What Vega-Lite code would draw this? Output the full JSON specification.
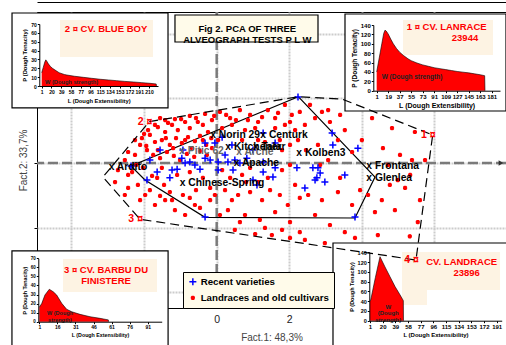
{
"$schema": "https://vega.github.io/schema/vega-lite/v6.json",
"width": 469, "height": 296,
"autosize": "none",
"padding": {"left": 37, "top": 12, "right": 0, "bottom": 37},
"background": "white",
"config": {"font": "Liberation Sans", "view": {"stroke": "black", "strokeWidth": 1}},
"datasets": {
"one": [{}],
"pts": [
{"x":-1.89,"y":1.02,"g":"L"},{"x":-1.84,"y":0.87,"g":"L"},{"x":-1.62,"y":1.11,"g":"L"},{"x":-1.42,"y":0.96,"g":"L"},{"x":-1.23,"y":1.18,"g":"L"},{"x":-1.07,"y":1.02,"g":"L"},{"x":-0.87,"y":1.27,"g":"L"},{"x":-0.74,"y":1.08,"g":"L"},{"x":-0.57,"y":1.39,"g":"L"},{"x":-0.38,"y":1.18,"g":"L"},{"x":-0.24,"y":0.96,"g":"L"},{"x":-0.13,"y":1.33,"g":"L"},{"x":-1.70,"y":0.65,"g":"L"},{"x":-1.51,"y":0.71,"g":"L"},{"x":-1.29,"y":0.56,"g":"L"},{"x":-1.12,"y":0.77,"g":"L"},{"x":-0.96,"y":0.62,"g":"L"},{"x":-0.79,"y":0.80,"g":"L"},{"x":-0.60,"y":0.68,"g":"L"},{"x":-0.46,"y":0.84,"g":"L"},{"x":-0.29,"y":0.56,"g":"L"},{"x":-2.11,"y":0.56,"g":"L"},{"x":-1.92,"y":0.40,"g":"L"},{"x":-1.75,"y":0.25,"g":"L"},{"x":-1.56,"y":0.15,"g":"L"},{"x":-1.37,"y":0.34,"g":"L"},{"x":-1.18,"y":0.22,"g":"L"},{"x":-1.01,"y":0.09,"g":"L"},{"x":-0.82,"y":0.28,"g":"L"},{"x":-0.62,"y":0.19,"g":"L"},{"x":-0.46,"y":0.37,"g":"L"},{"x":-0.27,"y":0.25,"g":"L"},{"x":-0.13,"y":0.46,"g":"L"},{"x":-2.25,"y":0.25,"g":"L"},{"x":-2.06,"y":0.77,"g":"L"},{"x":-2.53,"y":0.09,"g":"L"},{"x":-2.33,"y":-0.28,"g":"L"},{"x":-2.17,"y":-0.68,"g":"L"},{"x":-1.84,"y":-0.84,"g":"L"},{"x":-1.64,"y":-0.46,"g":"L"},{"x":-1.45,"y":-0.68,"g":"L"},{"x":-1.29,"y":-0.90,"g":"L"},{"x":-1.09,"y":-0.37,"g":"L"},{"x":-0.93,"y":-0.99,"g":"L"},{"x":-0.74,"y":-0.28,"g":"L"},{"x":-0.57,"y":-0.84,"g":"L"},{"x":-0.38,"y":-0.46,"g":"L"},{"x":-0.18,"y":-0.77,"g":"L"},{"x":-2.44,"y":0.34,"g":"L"},{"x":-2.80,"y":-0.59,"g":"L"},{"x":-1.56,"y":1.39,"g":"L"},{"x":-1.42,"y":1.33,"g":"L"},{"x":-1.15,"y":1.36,"g":"L"},{"x":-0.74,"y":1.46,"g":"L"},{"x":-0.32,"y":1.52,"g":"L"},{"x":-2.25,"y":0.71,"g":"L"},{"x":-2.72,"y":-0.22,"g":"L"},{"x":-2.53,"y":-0.99,"g":"L"},{"x":-2.11,"y":-1.15,"g":"L"},{"x":-1.70,"y":-1.30,"g":"L"},{"x":-1.42,"y":-1.15,"g":"L"},{"x":-1.15,"y":-1.46,"g":"L"},{"x":-0.87,"y":-1.61,"g":"L"},{"x":-0.60,"y":-1.30,"g":"L"},{"x":-0.18,"y":-1.15,"g":"L"},
{"x":0.09,"y":1.58,"g":"L"},{"x":0.37,"y":1.39,"g":"L"},{"x":0.64,"y":1.64,"g":"L"},{"x":0.92,"y":1.49,"g":"L"},{"x":1.14,"y":1.27,"g":"L"},{"x":1.41,"y":1.64,"g":"L"},{"x":1.61,"y":1.39,"g":"L"},{"x":1.88,"y":1.80,"g":"L"},{"x":2.07,"y":1.49,"g":"L"},{"x":0.15,"y":1.08,"g":"L"},{"x":0.42,"y":1.18,"g":"L"},{"x":0.78,"y":1.02,"g":"L"},{"x":1.06,"y":1.08,"g":"L"},{"x":1.61,"y":1.08,"g":"L"},{"x":1.88,"y":1.18,"g":"L"},{"x":2.16,"y":1.02,"g":"L"},{"x":0.04,"y":0.71,"g":"L"},{"x":0.70,"y":0.71,"g":"L"},{"x":1.33,"y":0.65,"g":"L"},{"x":1.74,"y":0.71,"g":"L"},{"x":2.02,"y":0.56,"g":"L"},{"x":2.24,"y":0.71,"g":"L"},{"x":0.15,"y":-0.22,"g":"L"},{"x":0.37,"y":-0.46,"g":"L"},{"x":0.70,"y":-0.37,"g":"L"},{"x":0.92,"y":-0.15,"g":"L"},{"x":1.14,"y":-0.59,"g":"L"},{"x":1.41,"y":-0.46,"g":"L"},{"x":1.80,"y":-0.22,"g":"L"},{"x":2.02,"y":-0.06,"g":"L"},{"x":2.16,"y":-0.68,"g":"L"},{"x":0.23,"y":-0.84,"g":"L"},{"x":0.59,"y":-0.99,"g":"L"},{"x":0.92,"y":-0.90,"g":"L"},{"x":1.25,"y":-1.15,"g":"L"},{"x":1.74,"y":-0.99,"g":"L"},{"x":1.96,"y":-1.30,"g":"L"},{"x":2.29,"y":-1.08,"g":"L"},{"x":0.31,"y":-1.46,"g":"L"},{"x":0.78,"y":-1.61,"g":"L"},{"x":1.19,"y":-1.76,"g":"L"},{"x":1.61,"y":-1.52,"g":"L"},{"x":2.02,"y":-1.83,"g":"L"},{"x":0.50,"y":-2.07,"g":"L"},{"x":1.06,"y":-2.20,"g":"L"},{"x":1.52,"y":-2.23,"g":"L"},{"x":2.02,"y":-2.32,"g":"L"},
{"x":2.57,"y":1.80,"g":"L"},{"x":2.90,"y":1.58,"g":"L"},{"x":3.67,"y":1.70,"g":"L"},{"x":4.28,"y":1.39,"g":"L"},{"x":4.83,"y":1.08,"g":"L"},{"x":5.46,"y":0.96,"g":"L"},{"x":2.43,"y":1.18,"g":"L"},{"x":3.12,"y":1.27,"g":"L"},{"x":3.53,"y":1.02,"g":"L"},{"x":4.00,"y":0.71,"g":"L"},{"x":4.58,"y":0.46,"g":"L"},{"x":5.05,"y":0.25,"g":"L"},{"x":5.38,"y":0.09,"g":"L"},{"x":2.79,"y":0.56,"g":"L"},{"x":3.34,"y":0.71,"g":"L"},{"x":3.73,"y":0.34,"g":"L"},{"x":2.85,"y":-0.06,"g":"L"},{"x":4.72,"y":-0.06,"g":"L"},{"x":4.99,"y":-0.53,"g":"L"},{"x":5.33,"y":-0.37,"g":"L"},{"x":2.52,"y":-0.99,"g":"L"},{"x":2.90,"y":-1.15,"g":"L"},{"x":3.34,"y":-0.90,"g":"L"},{"x":3.73,"y":-1.30,"g":"L"},{"x":4.17,"y":-0.99,"g":"L"},{"x":4.55,"y":-1.15,"g":"L"},{"x":4.91,"y":-1.46,"g":"L"},{"x":2.71,"y":-1.61,"g":"L"},{"x":3.12,"y":-1.92,"g":"L"},{"x":3.53,"y":-2.14,"g":"L"},{"x":4.44,"y":-2.23,"g":"L"},{"x":2.29,"y":-2.14,"g":"L"},{"x":2.98,"y":-2.48,"g":"L"},{"x":4.00,"y":-2.63,"g":"L"},{"x":4.91,"y":-2.54,"g":"L"},
{"x":-2.00,"y":0.90,"g":"L"},{"x":-1.70,"y":1.18,"g":"L"},{"x":-1.34,"y":1.24,"g":"L"},{"x":-0.98,"y":1.36,"g":"L"},{"x":-0.52,"y":1.27,"g":"L"},{"x":-0.07,"y":1.46,"g":"L"},{"x":0.26,"y":1.49,"g":"L"},{"x":0.53,"y":1.33,"g":"L"},{"x":0.86,"y":1.33,"g":"L"},{"x":1.25,"y":1.42,"g":"L"},{"x":1.69,"y":1.55,"g":"L"},{"x":2.02,"y":1.27,"g":"L"},{"x":2.29,"y":1.58,"g":"L"},{"x":2.71,"y":1.39,"g":"L"},{"x":3.07,"y":1.64,"g":"L"},{"x":3.40,"y":1.49,"g":"L"},
{"x":-1.94,"y":0.53,"g":"L"},{"x":-1.62,"y":0.40,"g":"L"},{"x":-1.40,"y":0.77,"g":"L"},{"x":-1.20,"y":0.46,"g":"L"},{"x":-0.87,"y":0.71,"g":"L"},{"x":-0.68,"y":0.46,"g":"L"},{"x":-0.38,"y":0.71,"g":"L"},{"x":-0.15,"y":0.77,"g":"L"},{"x":-2.22,"y":-0.06,"g":"L"},{"x":-2.44,"y":-0.37,"g":"L"},{"x":-2.03,"y":-0.15,"g":"L"},{"x":-1.78,"y":-0.40,"g":"L"},{"x":-1.51,"y":-0.15,"g":"L"},{"x":-2.44,"y":-0.77,"g":"L"},{"x":-1.97,"y":-0.99,"g":"L"},{"x":-1.56,"y":-1.02,"g":"L"},{"x":-1.23,"y":-1.15,"g":"L"},{"x":-0.74,"y":-1.08,"g":"L"},{"x":-0.46,"y":-1.39,"g":"L"},{"x":-0.05,"y":-0.99,"g":"L"},{"x":0.09,"y":-1.61,"g":"L"},{"x":0.64,"y":-1.83,"g":"L"},{"x":1.33,"y":-2.01,"g":"L"},{"x":1.80,"y":-2.07,"g":"L"},{"x":2.43,"y":-2.38,"g":"L"},{"x":3.40,"y":-2.54,"g":"L"},{"x":3.81,"y":-2.32,"g":"L"},{"x":4.28,"y":-2.57,"g":"L"},{"x":4.72,"y":-2.76,"g":"L"},{"x":5.10,"y":-2.69,"g":"L"},{"x":5.32,"y":-2.27,"g":"L"},{"x":5.54,"y":-1.83,"g":"L"},{"x":5.60,"y":-1.15,"g":"L"},{"x":5.74,"y":0.09,"g":"L"},{"x":5.19,"y":-0.77,"g":"L"},{"x":4.77,"y":-0.68,"g":"L"},{"x":4.36,"y":-1.52,"g":"L"},{"x":3.95,"y":-0.84,"g":"L"},{"x":3.40,"y":-0.46,"g":"L"},{"x":3.07,"y":0.09,"g":"L"},{"x":2.46,"y":0.40,"g":"L"},{"x":1.14,"y":0.71,"g":"L"},{"x":1.80,"y":0.40,"g":"L"},{"x":0.81,"y":-0.59,"g":"L"},{"x":1.47,"y":-0.84,"g":"L"},{"x":0.42,"y":-1.15,"g":"L"},
{"x":2.24,"y":2.04,"g":"R"},{"x":3.18,"y":0.93,"g":"R"},{"x":3.20,"y":0.56,"g":"R"},{"x":3.89,"y":0.46,"g":"R"},{"x":1.61,"y":0.62,"g":"R"},{"x":1.00,"y":0.40,"g":"R"},{"x":0.42,"y":0.56,"g":"R"},{"x":0.15,"y":0.80,"g":"R"},{"x":-0.32,"y":0.62,"g":"R"},{"x":-0.05,"y":0.62,"g":"R"},{"x":-0.93,"y":0.40,"g":"R"},{"x":-1.56,"y":0.40,"g":"R"},{"x":-1.84,"y":0.09,"g":"R"},{"x":-0.96,"y":0.15,"g":"R"},{"x":-0.74,"y":0.03,"g":"R"},{"x":-0.60,"y":-0.06,"g":"R"},{"x":-0.46,"y":-0.19,"g":"R"},{"x":-1.09,"y":-0.19,"g":"R"},{"x":-1.23,"y":-0.22,"g":"R"},{"x":-1.64,"y":-0.28,"g":"R"},{"x":-1.92,"y":-0.53,"g":"R"},{"x":-1.29,"y":-0.46,"g":"R"},{"x":-0.87,"y":0,"g":"R"},{"x":-0.32,"y":0.15,"g":"R"},{"x":-0.18,"y":0.09,"g":"R"},{"x":0.04,"y":0.03,"g":"R"},{"x":0.23,"y":0.25,"g":"R"},{"x":0.31,"y":0.03,"g":"R"},{"x":0.50,"y":0.09,"g":"R"},{"x":0.83,"y":0.15,"g":"R"},{"x":1.28,"y":0.03,"g":"R"},{"x":1.28,"y":-0.28,"g":"R"},{"x":1.61,"y":-0.15,"g":"R"},{"x":1.55,"y":-0.43,"g":"R"},{"x":2.21,"y":-0.15,"g":"R"},{"x":2.65,"y":-0.15,"g":"R"},{"x":2.79,"y":-0.15,"g":"R"},{"x":2.85,"y":-0.31,"g":"R"},{"x":2.76,"y":-0.46,"g":"R"},{"x":2.43,"y":-0.77,"g":"R"},{"x":3.53,"y":-0.37,"g":"R"},{"x":1.00,"y":-0.53,"g":"R"},{"x":0.04,"y":-0.22,"g":"R"},{"x":0.45,"y":-0.22,"g":"R"},{"x":0.64,"y":0,"g":"R"},{"x":2.98,"y":-0.59,"g":"R"},{"x":3.81,"y":-1.67,"g":"R"},{"x":-0.32,"y":-1.67,"g":"R"},{"x":-2.36,"y":-0.09,"g":"R"},{"x":1.11,"y":-0.68,"g":"R"},{"x":2.71,"y":-0.53,"g":"R"},{"x":1.28,"y":0.93,"g":"R"}
],
"hullR": [{"o":0,"x":2.248,"y":2.053},{"o":1,"x":-2.361,"y":-0.093},{"o":2,"x":-1.975,"y":-0.526},{"o":3,"x":-0.322,"y":-1.681},{"o":4,"x":3.81,"y":-1.703},{"o":5,"x":4.361,"y":-0.433},{"o":6,"x":2.248,"y":2.053}],
"hullL": [{"o":0,"x":-1.857,"y":1.279},{"o":1,"x":2.248,"y":2.053},{"o":2,"x":3.452,"y":1.981},{"o":3,"x":5.95,"y":0.867},{"o":4,"x":5.49,"y":-3.003},{"o":5,"x":-2.113,"y":-1.743},{"o":6,"x":-3.132,"y":-0.433},{"o":7,"x":-1.857,"y":1.279}],
"names": [{"x":-0.094,"y":0.867,"t":"x Norin 29"},{"x":1.284,"y":0.867,"t":"x Centurk"},{"x":0.32,"y":0.505,"t":"x Kitchener"},{"x":1.083,"y":0.495,"t":"x Talar"},{"x":0.551,"y":0.009,"t":"x Apache"},{"x":-2.893,"y":-0.133,"t":"x Ardito"},{"x":-0.937,"y":-0.61,"t":"x Chinese-Spring"},{"x":2.276,"y":0.30,"t":"x Kolben3"},{"x":4.204,"y":-0.084,"t":"x Frontana"},{"x":4.204,"y":-0.474,"t":"x Glenlea"},{"x":-0.95,"y":0.37,"t":"x Pitic 62"},{"x":0.62,"y":0.34,"t":"x Arche"}],
"cult": [{"x":5.95,"y":0.867,"t":"1 ¤"},{"x":-1.857,"y":1.279,"t":"2 ¤"},{"x":-2.113,"y":-1.743,"t":"3 ¤"},{"x":5.49,"y":-3.003,"t":"4 ¤"}],
"a1": [{"L":1,"P":40},{"L":5,"P":70},{"L":9,"P":100},{"L":12,"P":122},{"L":14,"P":129},{"L":16,"P":127},{"L":19,"P":121},{"L":23,"P":110},{"L":27,"P":100},{"L":32,"P":90},{"L":37,"P":82},{"L":43,"P":75},{"L":50,"P":68},{"L":55,"P":64},{"L":64,"P":59},{"L":73,"P":55},{"L":82,"P":52},{"L":91,"P":49},{"L":100,"P":47},{"L":109,"P":45},{"L":118,"P":43},{"L":127,"P":41},{"L":136,"P":39.5},{"L":145,"P":38},{"L":154,"P":36},{"L":163,"P":34},{"L":170,"P":32},{"L":170.5,"P":0}],
"a2": [{"L":1,"P":15},{"L":4,"P":21},{"L":7,"P":27},{"L":9,"P":29.5},{"L":11,"P":28},{"L":14,"P":25},{"L":18,"P":22},{"L":22,"P":20},{"L":27,"P":18},{"L":35,"P":15},{"L":45,"P":13},{"L":50,"P":12.4},{"L":65,"P":11},{"L":82,"P":9.8},{"L":98,"P":8.7},{"L":115,"P":7.6},{"L":131,"P":6.8},{"L":147,"P":6},{"L":163,"P":5.2},{"L":180,"P":4.5},{"L":196,"P":3.8},{"L":212,"P":3},{"L":224,"P":2.3},{"L":224.5,"P":0}],
"a3": [{"L":1,"P":16},{"L":3,"P":20},{"L":5.7,"P":29.5},{"L":9.3,"P":35.8},{"L":12.6,"P":33},{"L":15.4,"P":29.5},{"L":19.6,"P":20.3},{"L":23.7,"P":13.7},{"L":27.9,"P":11},{"L":34.8,"P":8.1},{"L":43.1,"P":5.5},{"L":51.4,"P":3.7},{"L":58.3,"P":2},{"L":58.5,"P":0}],
"a4": [{"L":1,"P":40},{"L":2,"P":42},{"L":9,"P":88},{"L":16,"P":131},{"L":23.5,"P":110},{"L":31,"P":90},{"L":38.5,"P":70},{"L":46,"P":53},{"L":51,"P":41},{"L":51.2,"P":0}]
},
"layer": [
{
"layer": [
{"data":{"name":"one"},"mark":{"type":"rule","color":"#7a7a7a","strokeWidth":2.5,"strokeDash":[10,4]},"encoding":{"y":{"datum":0}}},
{"data":{"name":"one"},"mark":{"type":"rule","color":"#7a7a7a","strokeWidth":2.5,"strokeDash":[10,4]},"encoding":{"x":{"datum":0}}},
{"data":{"name":"one"},"mark":{"type":"point","shape":"triangle-right","filled":true,"color":"#333333","size":28,"opacity":1},"encoding":{"x":{"datum":7.83},"y":{"datum":0}}},
{"data":{"name":"hullR"},"mark":{"type":"line","color":"black","strokeWidth":1.2},"encoding":{"x":{"field":"x","type":"quantitative"},"y":{"field":"y","type":"quantitative"},"order":{"field":"o"}}},
{"data":{"name":"pts"},"mark":{"type":"point","filled":false,"strokeWidth":1.5,"size":49,"opacity":1},
 "encoding":{
  "x":{"field":"x","type":"quantitative","scale":{"domain":[-4.95,7.97],"nice":false,"zero":false},
       "axis":{"values":[-4,-2,0,2,4,6],"grid":true,"gridColor":"#cccccc","gridWidth":2,"gridDash":[2,1],"ticks":false,"domain":false,"labelFontSize":10.5,"labelColor":"#222222","labelPadding":6,"title":"Fact.1: 48,3%","titleFontSize":10,"titleFontWeight":"normal","titleColor":"#444444","titlePadding":8}},
  "y":{"field":"y","type":"quantitative","scale":{"domain":[-4.489,4.675],"nice":false,"zero":false},
       "axis":{"values":[-4,-3,-2,-1,0,1,2,3,4],"grid":true,"gridColor":"#cccccc","gridWidth":2,"gridDash":[2,1],"labels":false,"ticks":true,"tickSize":3,"tickColor":"black","domain":false,"title":"Fact.2: 33,7%","titleFontSize":10,"titleFontWeight":"normal","titleColor":"#444444","titlePadding":5}},
  "color":{"field":"g","type":"nominal","scale":{"domain":["R","L"],"range":["#0000ff","#ff0000"]},
       "legend":{"orient":"none","legendX":146,"legendY":260,"title":null,"fillColor":"#fffbea","strokeColor":"black","padding":5,"rowPadding":3,"labelFontSize":9.7,"labelFontWeight":"bold","labelColor":"black","symbolStrokeWidth":1.5,"symbolSize":49,"labelOffset":3,"zindex":1,"labelExpr":"datum.label == 'R' ? 'Recent varieties' : 'Landraces and old cultivars'"}},
  "shape":{"field":"g","type":"nominal","scale":{"domain":["R","L"],"range":["M-1,0H1M0,-1V1","M-0.6,0H0.6M0,-0.6V0.6M-0.45,-0.45L0.45,0.45M-0.45,0.45L0.45,-0.45"]},
       "legend":{"orient":"none","legendX":146,"legendY":260,"title":null,"fillColor":"#fffbea","strokeColor":"black","padding":5,"rowPadding":3,"labelFontSize":9.7,"labelFontWeight":"bold","labelColor":"black","symbolStrokeWidth":1.5,"symbolSize":49,"labelOffset":3,"zindex":1,"labelExpr":"datum.label == 'R' ? 'Recent varieties' : 'Landraces and old cultivars'"}}
 }},
{"data":{"name":"names"},"transform":[{"filter":{"field":"t","oneOf":["x Pitic 62","x Arche"]}}],"mark":{"type":"text","align":"left","dx":-3,"baseline":"middle","fontSize":10.3,"fontWeight":"bold","color":"#666666"},"encoding":{"x":{"field":"x","type":"quantitative"},"y":{"field":"y","type":"quantitative"},"text":{"field":"t"}}},
{"data":{"name":"names"},"transform":[{"filter":{"not":{"field":"t","oneOf":["x Pitic 62","x Arche"]}}}],"mark":{"type":"text","align":"left","dx":-3,"baseline":"middle","fontSize":10.3,"fontWeight":"bold","color":"black"},"encoding":{"x":{"field":"x","type":"quantitative"},"y":{"field":"y","type":"quantitative"},"text":{"field":"t"}}},
{"data":{"name":"one"},"mark":{"type":"rect","fill":"#fffbea","stroke":"black","strokeWidth":1.2},"encoding":{"x":{"datum":-1.149},"x2":{"datum":2.791},"y":{"datum":3.746},"y2":{"datum":4.582}}},
{"data":{"name":"one"},"mark":{"type":"text","fontSize":9.5,"fontWeight":"bold","lineHeight":11,"baseline":"middle","align":"center","color":"black"},"encoding":{"x":{"datum":0.843},"y":{"datum":4.155},"text":{"value":["Fig 2. PCA OF THREE","ALVEOGRAPH TESTS  P L W"]}}}
]
},
{
"layer": [
{"data":{"name":"one"},"mark":{"type":"rect","fill":"white","stroke":"black","strokeWidth":1.2},"encoding":{"x":{"datum":-56.8},"x2":{"datum":247},"y":{"datum":-24.8},"y2":{"datum":82.4}}},
{"data":{"name":"one"},"mark":{"type":"rect","fill":"#fdf3e3"},"encoding":{"x":{"datum":36.6},"x2":{"datum":217.8},"y":{"datum":32.7},"y2":{"datum":74.5}}},
{"data":{"name":"a2"},"mark":{"type":"area","color":"#ff0000","opacity":1,"line":{"color":"black","strokeWidth":0.6}},
 "encoding":{
  "x":{"field":"L","type":"quantitative","scale":{"domain":[-3.67,227.5],"range":[2.3,121],"nice":false,"zero":false},
       "axis":{"orient":"bottom","offset":-222,"values":[1,20,39,58,77,96,115,134,153,172,191,210],"grid":false,"domainColor":"black","tickColor":"black","tickSize":2,"labelFontSize":5,"labelFontWeight":"bold","labelColor":"black","labelPadding":1,"labelFlush":false,"labelOverlap":false,"title":"L (Dough Extensibility)","titleFontSize":5.8,"titleFontWeight":"bold","titleColor":"black","titlePadding":3,"zindex":1}},
  "y":{"field":"P","type":"quantitative","scale":{"domain":[0,70],"range":[74,12],"nice":false},
       "axis":{"orient":"left","offset":-2.3,"values":[0,10,20,30,40,50,60,70],"grid":false,"domainColor":"black","tickColor":"black","tickSize":2,"labelFontSize":5,"labelFontWeight":"bold","labelColor":"black","labelPadding":1,"labelFlush":false,"labelOverlap":false,"title":"P (Dough Tenacity)","titleFontSize":5.8,"titleFontWeight":"bold","titleColor":"black","titlePadding":3,"zindex":1}}
 }},
{"data":{"name":"one"},"mark":{"type":"text","fontSize":9.5,"fontWeight":"bold","color":"#ff0000","align":"center","baseline":"middle"},"encoding":{"x":{"datum":126.2},"y":{"datum":64.4},"text":{"value":"2 ¤ CV. BLUE BOY"}}},
{"data":{"name":"one"},"mark":{"type":"text","fontSize":5.7,"fontWeight":"bold","color":"#222222","align":"left","baseline":"middle"},"encoding":{"x":{"datum":7.4},"y":{"datum":4.9},"text":{"value":"W (Dough strength)"}}}
]
},
{
"layer": [
{"data":{"name":"one"},"mark":{"type":"rect","fill":"white","stroke":"black","strokeWidth":1.2},"encoding":{"x":{"datum":-48.6},"x2":{"datum":203.4},"y":{"datum":-43.3},"y2":{"datum":163.4}}},
{"data":{"name":"one"},"mark":{"type":"rect","fill":"#fdf3e3"},"encoding":{"x":{"datum":42.2},"x2":{"datum":183},"y":{"datum":76.1},"y2":{"datum":150.6}}},
{"data":{"name":"a1"},"mark":{"type":"area","color":"#ff0000","opacity":1,"line":{"color":"black","strokeWidth":0.6}},
 "encoding":{
  "x":{"field":"L","type":"quantitative","scale":{"domain":[-4.3,194],"range":[336.3,463],"nice":false,"zero":false},
       "axis":{"orient":"bottom","offset":-217.3,"values":[1,19,37,55,73,91,109,127,145,163,181],"grid":false,"domainColor":"black","tickColor":"black","tickSize":2,"labelFontSize":6,"labelFontWeight":"bold","labelColor":"black","labelPadding":1,"labelFlush":false,"labelOverlap":false,"title":"L (Dough Extensibility)","titleFontSize":7,"titleFontWeight":"bold","titleColor":"black","titlePadding":2,"zindex":1}},
  "y":{"field":"P","type":"quantitative","scale":{"domain":[0,140],"range":[78.7,13],"nice":false},
       "axis":{"orient":"left","offset":-336.3,"values":[0,20,40,60,80,100,120,140],"grid":false,"domainColor":"black","tickColor":"black","tickSize":2,"labelFontSize":6,"labelFontWeight":"bold","labelColor":"black","labelPadding":1,"labelFlush":false,"labelOverlap":false,"title":"P (Dough Tenacity)","titleFontSize":6.5,"titleFontWeight":"bold","titleColor":"black","titlePadding":3,"zindex":1}}
 }},
{"data":{"name":"one"},"mark":{"type":"text","fontSize":9.5,"fontWeight":"bold","color":"#ff0000","align":"center","baseline":"middle"},"encoding":{"x":{"datum":110.6},"y":{"datum":136.4},"text":{"value":"1 ¤ CV. LANRACE"}}},
{"data":{"name":"one"},"mark":{"type":"text","fontSize":9.5,"fontWeight":"bold","color":"#ff0000","align":"center","baseline":"middle"},"encoding":{"x":{"datum":139.2},"y":{"datum":111.7},"text":{"value":"23944"}}},
{"data":{"name":"one"},"mark":{"type":"text","fontSize":6.5,"fontWeight":"bold","color":"#222222","align":"left","baseline":"middle"},"encoding":{"x":{"datum":8.8},"y":{"datum":28.6},"text":{"value":"W (Dough strength)"}}}
]
},
{
"layer": [
{"data":{"name":"one"},"mark":{"type":"rect","fill":"white","stroke":"black","strokeWidth":1.2},"encoding":{"x":{"datum":-21.7},"x2":{"datum":107.9},"y":{"datum":-31.2},"y2":{"datum":78.1}}},
{"data":{"name":"one"},"mark":{"type":"rect","fill":"#fdf3e3"},"encoding":{"x":{"datum":20.7},"x2":{"datum":98.7},"y":{"datum":32.8},"y2":{"datum":69.2}}},
{"data":{"name":"a3"},"mark":{"type":"area","color":"#ff0000","opacity":1,"line":{"color":"black","strokeWidth":0.6}},
 "encoding":{
  "x":{"field":"L","type":"quantitative","scale":{"domain":[0.17,102.6],"range":[1.3,124.7],"nice":false,"zero":false},
       "axis":{"orient":"bottom","offset":13.7,"values":[1,16,31,46,61,76,91],"grid":false,"domainColor":"black","tickColor":"black","tickSize":2,"labelFontSize":5,"labelFontWeight":"bold","labelColor":"black","labelPadding":1,"labelFlush":false,"labelOverlap":false,"title":"L (Dough Extensibility)","titleFontSize":5.3,"titleFontWeight":"bold","titleColor":"black","titlePadding":3,"zindex":1}},
  "y":{"field":"P","type":"quantitative","scale":{"domain":[0,70],"range":[309.7,246.3],"nice":false},
       "axis":{"orient":"left","offset":-1.3,"values":[0,10,20,30,40,50,60,70],"grid":false,"domainColor":"black","tickColor":"black","tickSize":2,"labelFontSize":4.5,"labelFontWeight":"bold","labelColor":"black","labelPadding":1,"labelFlush":false,"labelOverlap":false,"title":"P (Dough Tenacity)","titleFontSize":5.3,"titleFontWeight":"bold","titleColor":"black","titlePadding":3,"zindex":1}}
 }},
{"data":{"name":"one"},"mark":{"type":"text","fontSize":9.5,"fontWeight":"bold","color":"#ff0000","align":"center","baseline":"middle","lineHeight":10.5},"encoding":{"x":{"datum":56.4},"y":{"datum":56.8},"text":{"value":["3 ¤ CV. BARBU DU","FINISTERE"]}}},
{"data":{"name":"one"},"mark":{"type":"text","fontSize":5.5,"fontWeight":"bold","color":"#222222","align":"center","baseline":"middle","lineHeight":6.7},"encoding":{"x":{"datum":18.2},"y":{"datum":9.3},"text":{"value":["W (Dough","strength)"]}}}
]
},
{
"layer": [
{"data":{"name":"one"},"mark":{"type":"rect","fill":"white","stroke":"black","strokeWidth":1.2},"encoding":{"x":{"datum":-54.5},"x2":{"datum":211},"y":{"datum":-60},"y2":{"datum":159}}},
{"data":{"name":"one"},"mark":{"type":"rect","fill":"#fdf3e3"},"encoding":{"x":{"datum":49},"x2":{"datum":196},"y":{"datum":62.8},"y2":{"datum":140.6}}},
{"data":{"name":"one"},"mark":{"type":"rect","fill":"#fdf3e3"},"encoding":{"x":{"datum":49},"x2":{"datum":86.5},"y":{"datum":32.1},"y2":{"datum":62.8}}},
{"data":{"name":"a4"},"mark":{"type":"area","color":"#ff0000","opacity":1,"line":{"color":"black","strokeWidth":0.6}},
 "encoding":{
  "x":{"field":"L","type":"quantitative","scale":{"domain":[-0.05,198.5],"range":[332.3,464.7],"nice":false,"zero":false},
       "axis":{"orient":"bottom","offset":12.7,"values":[1,20,39,58,77,96,115,134,153,172,191],"grid":false,"domainColor":"black","tickColor":"black","tickSize":2,"labelFontSize":6,"labelFontWeight":"bold","labelColor":"black","labelPadding":1,"labelFlush":false,"labelOverlap":false,"title":"L (Dough Extensibility)","titleFontSize":6,"titleFontWeight":"bold","titleColor":"black","titlePadding":2,"zindex":1}},
  "y":{"field":"P","type":"quantitative","scale":{"domain":[0,140],"range":[308.7,240.3],"nice":false},
       "axis":{"orient":"left","offset":-332.3,"values":[0,20,40,60,80,100,120,140],"grid":false,"domainColor":"black","tickColor":"black","tickSize":2,"labelFontSize":5.5,"labelFontWeight":"bold","labelColor":"black","labelPadding":1,"labelFlush":false,"labelOverlap":false,"title":"P (Dough Tenacity)","titleFontSize":5.5,"titleFontWeight":"bold","titleColor":"black","titlePadding":3,"zindex":1}}
 }},
{"data":{"name":"one"},"mark":{"type":"text","fontSize":9.5,"fontWeight":"bold","color":"#ff0000","align":"center","baseline":"middle"},"encoding":{"x":{"datum":138.5},"y":{"datum":120.8},"text":{"value":"CV. LANDRACE"}}},
{"data":{"name":"one"},"mark":{"type":"text","fontSize":9.5,"fontWeight":"bold","color":"#ff0000","align":"center","baseline":"middle"},"encoding":{"x":{"datum":146},"y":{"datum":97},"text":{"value":"23896"}}},
{"data":{"name":"one"},"mark":{"type":"text","fontSize":6,"fontWeight":"bold","color":"#222222","align":"center","baseline":"middle","lineHeight":6.7},"encoding":{"x":{"datum":28.4},"y":{"datum":28.7},"text":{"value":["W","(Dough","strength)"]}}}
]
},
{
"layer": [
{"data":{"name":"hullL"},"mark":{"type":"line","color":"black","strokeWidth":1.2,"strokeDash":[9,5]},
 "encoding":{
  "x":{"field":"x","type":"quantitative","scale":{"domain":[-4.95,7.97],"nice":false,"zero":false},"axis":{"orient":"top","offset":10,"labels":false,"ticks":false,"grid":false,"domain":true,"domainColor":"black","domainWidth":1,"title":null}},
  "y":{"field":"y","type":"quantitative","scale":{"domain":[-4.489,4.675],"nice":false,"zero":false},"axis":null},
  "order":{"field":"o"}}},
{"data":{"name":"cult"},"mark":{"type":"text","align":"right","dx":3,"baseline":"middle","fontSize":10.5,"fontWeight":"bold","color":"#ff0000"},"encoding":{"x":{"field":"x","type":"quantitative"},"y":{"field":"y","type":"quantitative","axis":null},"text":{"field":"t"}}}
]
}
],
"resolve": {"scale": {"x":"independent","y":"independent"}, "axis": {"x":"independent","y":"independent"}}
}
